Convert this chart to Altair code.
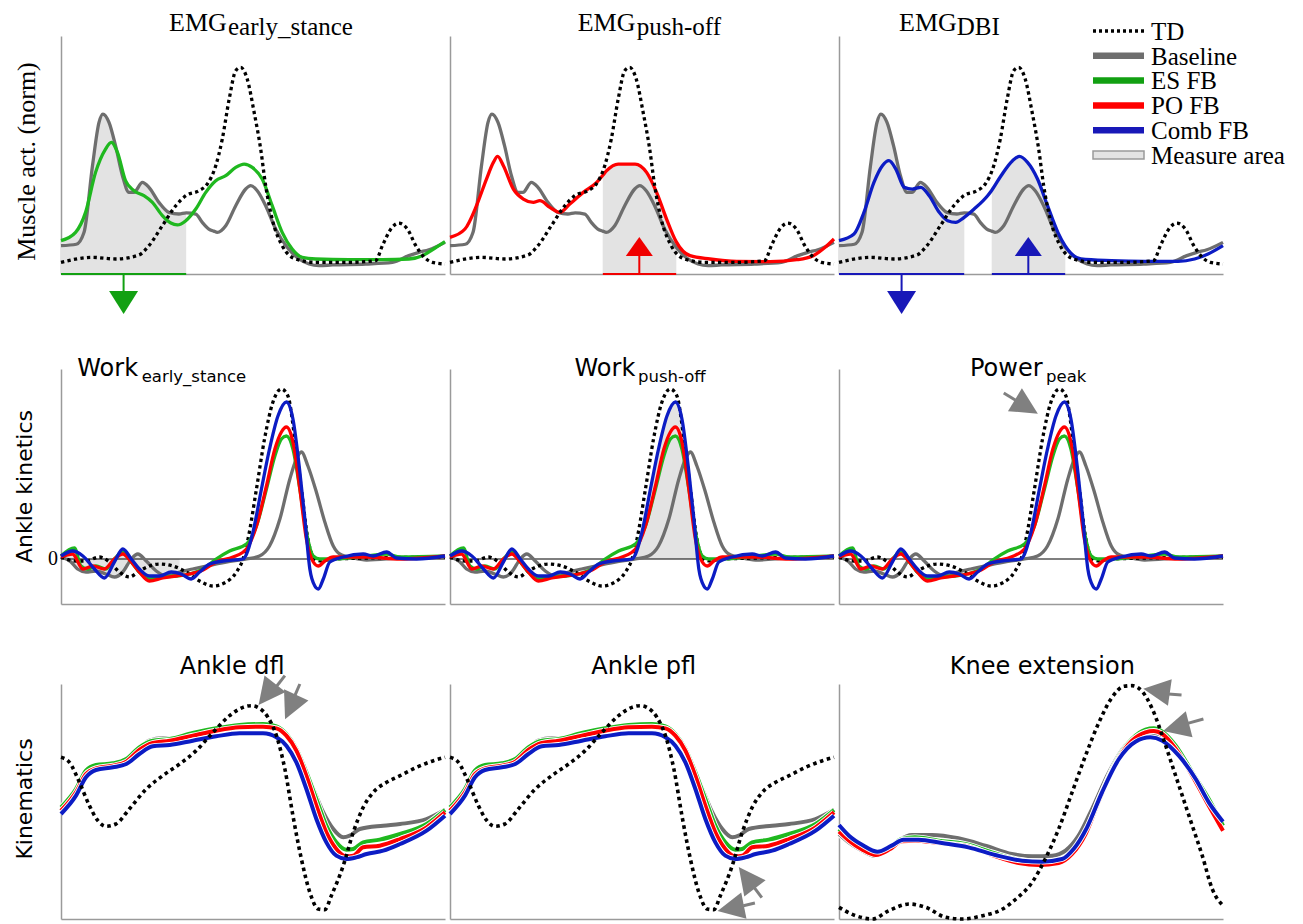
import altair as alt
import pandas as pd

# ---------------- data: x = % of gait cycle ----------------
# Row 1: normalised muscle activity
EMG_TD = [(0, 0.049), (8.2, 0.070), (14.2, 0.063), (20.3, 0.080), (22.9, 0.119), (26.4, 0.203),
          (29.9, 0.287), (32.5, 0.329), (35.9, 0.350), (38.1, 0.378), (40.3, 0.455), (42.0, 0.567),
          (43.8, 0.735), (45.5, 0.854), (46.8, 0.868), (48.5, 0.819), (50.3, 0.679), (52.0, 0.525),
          (53.3, 0.371), (55.0, 0.231), (57.6, 0.119), (61.1, 0.063), (66.3, 0.049), (75.0, 0.049),
          (81.9, 0.056), (83.7, 0.119), (85.9, 0.189), (88.0, 0.214), (90.2, 0.189), (92.4, 0.119),
          (94.6, 0.070), (96.7, 0.049), (100, 0.042)]
EMG_BASE = [(0, 0.119), (4.0, 0.125), (6.0, 0.175), (8.2, 0.455), (9.9, 0.637), (10.9, 0.672),
            (12.5, 0.637), (14.2, 0.539), (16.0, 0.413), (17.7, 0.343), (19.0, 0.343), (21.2, 0.385),
            (22.9, 0.364), (25.5, 0.301), (28.1, 0.259), (30.7, 0.252), (32.6, 0.257), (35.1, 0.252),
            (36.8, 0.217), (38.5, 0.189), (39.8, 0.180), (40.7, 0.175), (42.9, 0.203), (45.5, 0.287),
            (48.1, 0.357), (49.4, 0.371), (51.1, 0.350), (53.3, 0.287), (55.9, 0.189), (58.9, 0.112),
            (62.0, 0.063), (64.6, 0.042), (67.2, 0.035), (70.7, 0.038), (79.3, 0.042), (86.3, 0.049),
            (90.6, 0.077), (93.2, 0.091), (95.8, 0.102), (100, 0.133)]
EMG_ES = [(0, 0.140), (3.8, 0.175), (6.4, 0.259), (9.0, 0.427), (11.6, 0.525), (13.1, 0.553),
          (14.7, 0.511), (16.8, 0.392), (19.0, 0.350), (21.6, 0.329), (23.8, 0.301), (26.4, 0.245),
          (28.6, 0.214), (30.3, 0.206), (32.5, 0.224), (35.1, 0.273), (37.7, 0.343), (40.3, 0.392),
          (42.9, 0.413), (45.5, 0.448), (47.7, 0.462), (49.8, 0.448), (52.4, 0.399), (55.0, 0.287),
          (57.6, 0.175), (60.2, 0.105), (62.8, 0.070), (66.3, 0.063), (75.0, 0.060), (83.7, 0.060),
          (90.6, 0.063), (94.1, 0.077), (96.7, 0.102), (100, 0.136)]
EMG_PO = [(0, 0.154), (3.9, 0.189), (6.9, 0.287), (9.5, 0.399), (11.3, 0.469), (12.4, 0.494),
          (13.9, 0.455), (16.5, 0.357), (19.1, 0.315), (21.7, 0.301), (23.4, 0.308), (26.0, 0.280),
          (28.6, 0.259), (31.2, 0.294), (34.7, 0.343), (38.2, 0.385), (39.8, 0.415), (40.8, 0.434),
          (43.8, 0.462), (48.2, 0.462), (51.2, 0.427), (53.8, 0.343), (56.4, 0.231), (58.9, 0.136),
          (62.5, 0.077), (67.7, 0.063), (74.7, 0.053), (83.3, 0.052), (90.3, 0.060), (94.6, 0.077),
          (97.7, 0.112), (100, 0.147)]
EMG_COMB = [(0, 0.140), (3.9, 0.168), (6.5, 0.259), (9.1, 0.385), (11.3, 0.455), (13.0, 0.476),
            (14.8, 0.441), (17.0, 0.364), (19.1, 0.357), (21.3, 0.364), (23.5, 0.329), (26.1, 0.259),
            (28.3, 0.224), (30.4, 0.217), (32.6, 0.238), (35.2, 0.273), (38.7, 0.329), (39.8, 0.352),
            (42.2, 0.413), (45.2, 0.476), (47.0, 0.494), (49.1, 0.469), (51.7, 0.399), (54.3, 0.287),
            (57.0, 0.175), (58.9, 0.118), (63.0, 0.063), (70.9, 0.056), (79.6, 0.053), (88.3, 0.053),
            (92.6, 0.063), (96.1, 0.084), (100, 0.119)]

# Row 2: ankle power (W/kg)
KIN_TD = [(0, 0.02), (3.9, -0.02), (6.5, -0.02), (10.0, 0.02), (12.6, -0.03), (15.2, -0.13),
          (17.8, -0.18), (20.4, -0.12), (23.0, -0.07), (25.7, -0.05), (29.1, -0.07), (32.6, -0.13),
          (36.1, -0.22), (39.6, -0.27), (43.0, -0.23), (45.7, -0.13), (47.4, 0.0), (48.7, 0.20),
          (50.9, 0.70), (53.0, 1.20), (55.2, 1.57), (57.4, 1.70), (59.1, 1.63), (60.9, 1.20),
          (62.6, 0.70), (64.3, 0.20), (66.1, 0.0), (67.8, -0.02), (70.9, 0.0), (100, 0.02)]
KIN_BASE = [(0, 0.02), (2.6, -0.03), (4.3, -0.10), (6.5, -0.13), (9.1, -0.12), (11.7, -0.15),
            (13.9, -0.18), (16.1, -0.13), (18.3, 0.0), (20.0, 0.05), (22.2, -0.02), (24.8, -0.12),
            (27.4, -0.17), (30.9, -0.13), (34.3, -0.10), (37.8, -0.07), (43.0, -0.03), (48.3, 0.0),
            (51.7, 0.03), (54.3, 0.13), (57.0, 0.40), (59.6, 0.80), (61.3, 1.00), (62.6, 1.07),
            (64.3, 0.93), (66.5, 0.67), (68.7, 0.37), (70.9, 0.13), (72.6, 0.05), (76.1, 0.01),
            (79.6, -0.01), (88.3, 0.01), (100, 0.02)]
KIN_ES = [(0, 0.03), (3.5, 0.11), (5.2, -0.07), (7.0, -0.10), (9.1, -0.07), (11.7, -0.10),
          (13.9, 0.0), (16.1, 0.07), (18.3, -0.03), (20.4, -0.13), (23.0, -0.20), (26.5, -0.18),
          (30.0, -0.17), (33.5, -0.15), (37.0, -0.10), (40.4, 0.0), (43.9, 0.08), (48.3, 0.15),
          (50.9, 0.33), (53.5, 0.70), (55.7, 1.03), (57.4, 1.20), (58.7, 1.23), (60.4, 1.10),
          (62.2, 0.70), (63.9, 0.27), (65.7, 0.03), (67.4, 0.0), (70.9, 0.0), (79.6, 0.03),
          (84.8, 0.05), (88.3, 0.02), (100, 0.03)]
KIN_PO = [(0, 0.02), (3.0, 0.05), (5.7, -0.10), (8.3, -0.07), (11.3, -0.10), (13.9, 0.0),
          (16.1, 0.05), (18.3, -0.03), (20.4, -0.13), (23.0, -0.22), (26.5, -0.19), (30.0, -0.17),
          (33.5, -0.15), (37.0, -0.11), (40.4, -0.03), (44.8, 0.02), (48.3, 0.10), (50.9, 0.33),
          (53.5, 0.73), (55.7, 1.10), (57.4, 1.27), (58.7, 1.32), (60.4, 1.17), (62.2, 0.70),
          (63.9, 0.20), (65.7, -0.03), (67.0, -0.07), (68.7, -0.02), (70.9, 0.02), (79.6, 0.02),
          (88.3, 0.0), (100, 0.03)]
KIN_COMB = [(0, 0.03), (3.0, 0.08), (5.7, 0.03), (8.7, -0.10), (11.3, -0.19), (13.9, -0.03),
            (16.1, 0.10), (18.3, 0.0), (20.4, -0.10), (23.0, -0.17), (25.7, -0.17), (28.7, -0.13),
            (31.3, -0.15), (33.9, -0.20), (36.1, -0.13), (38.7, -0.05), (42.2, -0.02), (47.4, 0.0),
            (50.0, 0.27), (52.2, 0.70), (54.3, 1.10), (56.5, 1.43), (58.7, 1.57), (60.4, 1.40),
            (62.2, 0.87), (63.5, 0.40), (64.8, -0.10), (66.1, -0.27), (67.0, -0.30), (68.3, -0.20),
            (70.0, -0.03), (73.5, 0.02), (78.7, 0.05), (81.3, 0.03), (84.8, 0.07), (87.4, 0.01),
            (92.6, 0.0), (100, 0.03)]

# Row 3: ankle angle (deg)
ANK_TD = [(0, 7.25), (2.2, 6.5), (4.8, 3.5), (7.4, 0.0), (9.6, -2.25), (11.7, -3.1), (14.3, -2.75),
          (17.8, -0.5), (22.2, 2.5), (26.5, 4.5), (30.9, 6.25), (35.2, 8.25), (39.6, 11.0),
          (43.9, 13.5), (47.4, 14.75), (49.6, 15.0), (51.7, 14.6), (53.9, 13.25), (56.1, 10.5),
          (58.3, 5.5), (60.4, -1.5), (62.6, -8.0), (64.8, -13.0), (67.0, -15.5), (68.7, -15.6),
          (70.4, -13.5), (73.5, -9.0), (76.1, -4.0), (78.7, -0.25), (81.3, 2.0), (84.8, 3.5),
          (88.3, 4.5), (92.6, 5.75), (97.0, 6.75), (100, 7.25)]
ANK_BASE = [(0, -0.75), (3.9, 2.25), (6.5, 5.0), (8.7, 5.9), (11.7, 6.25), (16.1, 6.75), (19.6, 8.0),
            (23.0, 9.75), (26.5, 10.1), (30.0, 10.0), (36.1, 11.0), (43.0, 11.75), (50.0, 12.1),
            (54.3, 11.9), (57.8, 11.0), (60.4, 9.0), (63.0, 6.0), (65.7, 2.5), (68.3, -1.0),
            (70.9, -3.5), (73.5, -4.75), (75.2, -4.5), (77.8, -3.5), (83.9, -3.0), (88.3, -2.75),
            (95.2, -2.0), (100, -0.6)]
ANK_ES = [(0, -0.25), (3.9, 2.5), (6.5, 5.25), (9.1, 6.1), (13.5, 6.35), (17.0, 7.0), (20.4, 8.75),
          (23.9, 9.75), (28.3, 10.0), (34.3, 10.9), (40.4, 11.6), (46.5, 12.1), (52.6, 12.25),
          (56.1, 11.9), (58.7, 10.75), (61.3, 8.5), (63.9, 5.0), (66.5, 1.0), (69.1, -3.0),
          (71.7, -5.5), (74.3, -6.6), (76.1, -6.5), (78.7, -5.5), (83.0, -5.1), (88.3, -4.25),
          (95.2, -2.75), (100, -0.65)]
ANK_PO = [(0, -0.75), (3.9, 2.0), (6.5, 4.75), (9.1, 5.6), (13.5, 6.0), (17.0, 6.6), (20.4, 8.35),
          (23.9, 9.4), (28.3, 9.75), (34.3, 10.5), (40.4, 11.25), (46.5, 11.75), (52.6, 11.85),
          (56.1, 11.6), (58.7, 10.5), (61.3, 8.25), (63.9, 4.5), (66.5, 0.0), (69.1, -4.0),
          (71.7, -6.5), (74.3, -7.6), (76.1, -7.5), (78.7, -6.25), (83.0, -6.0), (88.3, -5.0),
          (95.2, -3.25), (100, -1.0)]
ANK_COMB = [(0, -1.25), (3.9, 1.5), (6.5, 4.25), (9.1, 5.35), (13.5, 5.75), (17.0, 6.25), (20.4, 7.75),
            (23.9, 8.9), (28.3, 9.1), (34.3, 9.75), (40.4, 10.4), (46.5, 10.85), (52.6, 10.85),
            (56.1, 10.25), (58.7, 9.0), (61.3, 6.5), (63.9, 2.5), (66.5, -2.0), (69.1, -5.5),
            (71.7, -7.5), (74.3, -8.0), (76.9, -7.75), (79.6, -7.25), (83.9, -6.75), (88.3, -5.75),
            (95.2, -3.75), (100, -1.5)]

# Row 3: knee angle (deg)
KNEE_TD = [(0, 4.0), (4.3, 1.5), (8.7, 0.5), (13.0, 3.0), (18.3, 5.0), (22.6, 4.0), (27.8, 1.0),
           (32.2, 0.5), (37.4, 1.5), (42.6, 3.5), (46.1, 6.5), (50.3, 11.5), (53.7, 18.5),
           (57.2, 27.5), (60.7, 38.5), (64.2, 49.5), (67.7, 59.5), (71.1, 67.0), (74.2, 70.3),
           (76.3, 70.5), (79.0, 68.7), (81.6, 63.5), (84.2, 55.5), (86.8, 46.5), (89.4, 37.5),
           (92.0, 28.5), (94.6, 19.5), (97.2, 9.5), (100, 4.5)]
KNEE_BASE = [(0, 26.0), (2.6, 23.5), (6.1, 21.0), (9.2, 19.5), (12.4, 21.0), (15.5, 24.0), (19.0, 25.7),
             (24.2, 25.7), (31.1, 24.7), (38.1, 22.5), (45.0, 20.0), (50.3, 19.3), (55.5, 19.5),
             (59.0, 21.0), (62.4, 25.5), (65.9, 33.5), (70.3, 44.5), (74.6, 52.5), (78.1, 55.5),
             (80.7, 56.5), (83.3, 55.5), (86.8, 52.5), (91.1, 45.5), (95.5, 36.5), (100, 28.5)]
KNEE_ES = [(0, 27.5), (2.6, 24.7), (6.1, 22.0), (9.6, 20.5), (13.3, 22.0), (16.3, 24.5), (19.8, 25.0),
           (25.9, 24.0), (32.9, 23.0), (39.8, 20.5), (46.8, 18.3), (52.0, 17.7), (57.2, 18.0),
           (60.7, 20.5), (64.2, 26.5), (67.7, 36.5), (72.0, 47.5), (76.3, 54.5), (79.8, 57.3),
           (82.0, 57.7), (84.2, 56.7), (87.7, 52.5), (92.0, 44.5), (96.3, 36.5), (100, 28.5)]
KNEE_PO = [(0, 26.7), (2.6, 24.0), (6.1, 21.3), (9.6, 19.7), (13.3, 21.5), (16.3, 23.8), (19.8, 24.0),
           (25.9, 23.3), (32.9, 22.5), (39.8, 19.7), (46.8, 17.3), (52.0, 16.7), (57.2, 17.3),
           (60.7, 20.0), (64.2, 26.0), (67.7, 36.0), (72.0, 47.0), (76.3, 54.0), (79.8, 56.5),
           (82.0, 56.9), (84.2, 56.0), (87.7, 51.5), (92.0, 43.5), (96.3, 34.5), (100, 27.0)]
KNEE_COMB = [(0, 28.7), (2.6, 25.5), (6.1, 22.7), (10.0, 20.7), (13.7, 22.5), (16.8, 24.3), (20.7, 24.3),
             (26.8, 23.3), (33.7, 22.0), (40.7, 19.7), (47.7, 18.0), (52.9, 17.7), (58.1, 18.5),
             (61.1, 21.5), (64.6, 28.0), (68.5, 38.5), (72.9, 48.5), (77.2, 53.7), (81.1, 55.0),
             (84.2, 54.0), (88.5, 49.5), (92.9, 42.5), (96.3, 35.5), (100, 29.7)]

# measure areas (% gait cycle) and arrow anchors
MEASURE_ES = [(0, 32.6)]
MEASURE_PO = [(39.8, 58.9)]
MEASURE_COMB = [(0, 32.6), (39.8, 58.9)]
ARROW_ES = [(16.3, "down")]
ARROW_PO = [(49.3, "up")]
ARROW_COMB = [(16.3, "down"), (49.3, "up")]
WORK_ES_RANGE = (0, 32.2)
WORK_PO_RANGE = (47.4, 64.8)

# grey pointer arrows: head x, head y, rotation, tail x1, y1, x2, y2
POINT_POWER = [(48.8, 1.523, 301.3, 46.0, 1.587, 42.9, 1.66)]
POINT_DFL = [(53.6, 16.7, 38.0, 56.0, 17.8, 58.3, 19.5),
             (59.8, 14.8, 24.6, 60.9, 16.5, 62.2, 18.25)]
POINT_PFL = [(77.3, -10.8, 142.8, 79.0, -12.1, 81.2, -13.8),
             (73.1, -15.4, 78.7, 76.4, -15.0, 79.4, -14.6)]
POINT_KNEE = [(82.7, 69.0, 98.1, 85.8, 68.0, 89.2, 67.7),
              (87.8, 57.9, 75.5, 90.8, 59.2, 94.9, 60.5)]

LEGEND_LABELS = ["TD", "Baseline", "ES FB", "PO FB", "Comb FB", "Measure area"]

# ---------------- styling ----------------
GRAY = "#6e6e6e"
GREEN = "#1fb81f"
RED = "#ff0000"
BLUE = "#0c1cc4"
GREEN_D = "#12a012"
RED_D = "#f00000"
BLUE_D = "#1818b8"
FILL = "#e3e3e3"
POINTER = "#808080"
SERIF = "Liberation Serif"
SANS = "DejaVu Sans"
LW = 3.3             # line width rows 1-2
LW3 = 4.0            # line width kinematics row

W, H1, H = 384, 238, 235
OFF2 = 15            # extra room above the kinetics row (keeps rows 95 / 80 px apart)
EMG_DOM, KIN_DOM = [0, 1], [-0.45, 1.9]
ANK_DOM, KNEE_DOM = [-17, 18.25], [0.5, 71]

DOWN_HEAD = "M-1,-0.8L1,-0.8L0,0.8Z"
UP_HEAD = "M-1,0.7L1,0.7L0,-0.7Z"
PTR_HEAD = "M-1,-1L1,-1L0,1Z"

XS = alt.Scale(domain=[0, 100], nice=False, zero=False)
AX = alt.Axis(labels=False, ticks=False, grid=False, title=None,
              domainColor="#9a9a9a", domainWidth=1.5)
ONE = pd.DataFrame({"k": [0]})


def ysc(dom):
    if dom is KIN_DOM:
        return alt.Scale(domain=dom, nice=False, zero=False, range=[H + OFF2, OFF2])
    return alt.Scale(domain=dom, nice=False, zero=False)


def X(f="x"):
    return alt.X(f"{f}:Q", scale=XS, axis=AX)


def Y(dom, f="y"):
    return alt.Y(f"{f}:Q", scale=ysc(dom), axis=AX)


def frame(pairs):
    return pd.DataFrame(pairs, columns=["x", "y"])


def line(pairs, dom, color, width=LW, dash=None):
    props = dict(color=color, strokeWidth=width, interpolate="monotone", strokeCap="butt")
    if dash:
        props["strokeDash"] = dash
    return alt.Chart(frame(pairs)).mark_line(**props).encode(x=X(), y=Y(dom))


def halo(pairs, dom, color, width=LW3):
    return [line(pairs, dom, "white", width + 1.8), line(pairs, dom, color, width)]


def label(text, x, y, size, font, align="left", angle=None, baseline="alphabetic"):
    props = dict(text=text, font=font, fontSize=size, align=align, baseline=baseline, color="black")
    if angle is not None:
        props["angle"] = angle
    return alt.Chart(ONE).mark_text(**props).encode(x=alt.value(x), y=alt.value(y))


def shade(pairs, dom, lo, hi, positive=False):
    ch = alt.Chart(frame(pairs)).transform_filter(alt.FieldRangePredicate(field="x", range=[lo, hi]))
    f = "y"
    if positive:
        ch = ch.transform_calculate(yp="max(datum.y, 0)")
        f = "yp"
    return ch.mark_area(color=FILL, interpolate="monotone").encode(
        x=X(), y=Y(dom, f), y2=alt.datum(0))


def pointers(rows, dom):
    df = pd.DataFrame(rows, columns=["x", "y", "ang", "tx1", "ty1", "tx2", "ty2"])
    tails = alt.Chart(df).mark_rule(color=POINTER, strokeWidth=3).encode(
        x=X("tx1"), y=Y(dom, "ty1"), x2="tx2:Q", y2="ty2:Q")
    heads = alt.Chart(df).mark_point(shape=PTR_HEAD, size=720, filled=True, opacity=1,
                                     color=POINTER).encode(
        x=X(), y=Y(dom), angle=alt.Angle("ang:Q", scale=None))
    return [tails, heads]


def emg_panel(fb, fb_color, mark_color, areas, arrows, main_x, sub, sub_x, extra=()):
    L = []
    for lo, hi in areas:
        for s in (EMG_BASE, fb):
            L.append(shade(s, EMG_DOM, lo, hi))
    L.append(line(EMG_BASE, EMG_DOM, GRAY))
    L.append(line(fb, EMG_DOM, fb_color))
    L.append(line(EMG_TD, EMG_DOM, "black", LW, [3.3, 3.3]))
    for lo, hi in areas:
        L.append(alt.Chart(pd.DataFrame({"x0": [lo], "x1": [hi]}))
                 .mark_rule(color=mark_color, strokeWidth=2)
                 .encode(x=X("x0"), x2="x1:Q", y=alt.value(H1)))
    for xm, d in arrows:
        df = pd.DataFrame({"xm": [xm]})
        if d == "down":
            L.append(alt.Chart(df).mark_rule(color=mark_color, strokeWidth=2).encode(
                x=X("xm"), y=alt.value(H1), y2=alt.value(H1 + 17)))
            L.append(alt.Chart(df).mark_point(shape=DOWN_HEAD, size=841, filled=True, opacity=1,
                                              color=mark_color).encode(
                x=X("xm"), y=alt.value(H1 + 28.5)))
        else:
            L.append(alt.Chart(df).mark_rule(color=mark_color, strokeWidth=2).encode(
                x=X("xm"), y=alt.value(H1), y2=alt.value(H1 - 18)))
            L.append(alt.Chart(df).mark_point(shape=UP_HEAD, size=729, filled=True, opacity=1,
                                              color=mark_color).encode(
                x=X("xm"), y=alt.value(H1 - 27.5)))
    L.append(label("EMG", main_x, -5.3, 26, SERIF))
    L.append(label(sub, sub_x, -1, 25, SERIF))
    L.extend(extra)
    return alt.layer(*L).properties(width=W, height=H1)


def kin_panel(shades, main, main_x, main_y, sub, sub_x, extra=()):
    L = list(shades)
    L.append(alt.Chart(ONE).mark_rule(color="black", strokeWidth=1.2).encode(
        y=alt.YDatum(0, scale=ysc(KIN_DOM), axis=AX)))
    L.append(line(KIN_BASE, KIN_DOM, GRAY))
    L.append(line(KIN_TD, KIN_DOM, "black", LW, [3.3, 3.3]))
    L.append(line(KIN_ES, KIN_DOM, GREEN))
    L.append(line(KIN_PO, KIN_DOM, RED))
    L.append(line(KIN_COMB, KIN_DOM, BLUE))
    L.append(label(main, main_x, OFF2 + main_y, 24, SANS))
    L.append(label(sub, sub_x, OFF2 + main_y + 6, 16.5, SANS))
    L.extend(extra)
    return alt.layer(*L).properties(width=W, height=H + OFF2)


def kinematic_panel(td, base, es, po, comb, dom, title, title_x, ptrs, extra=()):
    L = []
    L += halo(base, dom, GRAY)
    L += halo(es, dom, GREEN)
    L += halo(po, dom, RED)
    L += halo(comb, dom, BLUE)
    L.append(line(td, dom, "black", 3.6, [3.6, 3.6]))
    L += pointers(ptrs, dom)
    L.append(label(title, title_x, -10, 24, SANS, align="center"))
    L.extend(extra)
    return alt.layer(*L).properties(width=W, height=H)


# legend (drawn in the top-right panel)
legend_layers = []
leg_styles = [("black", 3.5, [3, 3]), (GRAY, 6.5, None), (GREEN_D, 6.5, None),
              (RED, 6.5, None), (BLUE_D, 6.5, None)]
for i, lab in enumerate(LEGEND_LABELS):
    yc = -5 + 24.8 * i
    if i < 5:
        col, wd, dash = leg_styles[i]
        props = dict(color=col, strokeWidth=wd, strokeCap="butt")
        if dash:
            props["strokeDash"] = dash
        legend_layers.append(alt.Chart(ONE).mark_rule(**props).encode(
            x=alt.value(254), x2=alt.value(305), y=alt.value(yc)))
    else:
        legend_layers.append(alt.Chart(ONE).mark_rect(fill=FILL, stroke="#9a9a9a", strokeWidth=1.5).encode(
            x=alt.value(254), x2=alt.value(305), y=alt.value(yc - 4), y2=alt.value(yc + 4)))
    legend_layers.append(label(lab, 312, yc + 8.7, 25, SERIF))

p11 = emg_panel(EMG_ES, GREEN, GREEN_D, MEASURE_ES, ARROW_ES, 108, "early_stance", 167,
                extra=[label("Muscle act. (norm)", -26, 125.5, 26, SERIF, align="center", angle=270)])
p12 = emg_panel(EMG_PO, RED, RED_D, MEASURE_PO, ARROW_PO, 127.7, "push-off", 186.7)
p13 = emg_panel(EMG_COMB, BLUE, BLUE_D, MEASURE_COMB, ARROW_COMB, 60, "DBI", 117.7,
                extra=legend_layers)

p21 = kin_panel([shade(KIN_BASE, KIN_DOM, *WORK_ES_RANGE), shade(KIN_ES, KIN_DOM, *WORK_ES_RANGE)],
                "Work", 16.3, 6.7, "early_stance", 80.7,
                extra=[label("Ankle kinetics", -29.3, OFF2 + 117.5, 22, SANS, align="center", angle=270),
                       alt.Chart(ONE).mark_text(text="0", font=SERIF, fontSize=20, align="right",
                                                baseline="middle", color="black").encode(
                           x=alt.value(-3), y=alt.YDatum(0, scale=ysc(KIN_DOM), axis=AX))])
p22 = kin_panel([shade(KIN_COMB, KIN_DOM, *WORK_PO_RANGE, positive=True)],
                "Work", 124.5, 6.7, "push-off", 188)
p23 = kin_panel([], "Power", 131, 7.3, "peak", 207, extra=pointers(POINT_POWER, KIN_DOM))

p31 = kinematic_panel(ANK_TD, ANK_BASE, ANK_ES, ANK_PO, ANK_COMB, ANK_DOM, "Ankle dfl", 171.2, POINT_DFL,
                      extra=[label("Kinematics", -29.3, 115, 22, SANS, align="center", angle=270)])
p32 = kinematic_panel(ANK_TD, ANK_BASE, ANK_ES, ANK_PO, ANK_COMB, ANK_DOM, "Ankle pfl", 193.7, POINT_PFL)
p33 = kinematic_panel(KNEE_TD, KNEE_BASE, KNEE_ES, KNEE_PO, KNEE_COMB, KNEE_DOM, "Knee extension", 203.3,
                      POINT_KNEE)

chart = (alt.concat(p11, p12, p13, p21, p22, p23, p31, p32, p33,
                    columns=3, spacing={"row": 80, "column": 5}, bounds="flush")
         .properties(padding={"left": 5, "top": 1, "right": 5, "bottom": 0})
         .configure_view(stroke=None))

chart.save("out.html", embed_options={"renderer": "svg", "actions": False})
